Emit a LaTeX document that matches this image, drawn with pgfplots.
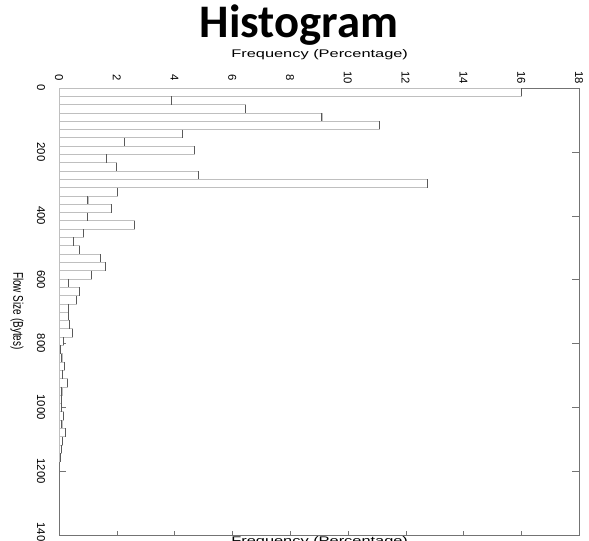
\documentclass[border=0pt]{standalone}
\usepackage{fontspec}
\setmainfont{Liberation Sans}
\newfontfamily\titlefont{Carlito}
\usepackage{pgfplots}
\usepackage{pgfplotstable}
\pgfplotsset{compat=1.18}

% Flow size histogram: bin start (bytes), share of flows (%)
\pgfplotstableread{
start freq
0    16.00
26   3.90
52   6.45
78   9.10
104  11.10
130  4.27
156  2.27
182  4.69
208  1.65
234  1.99
260  4.84
286  12.74
312  2.01
338  1.00
364  1.81
390  0.97
416  2.62
442  0.83
468  0.51
494  0.71
520  1.42
546  1.60
572  1.13
598  0.34
624  0.71
650  0.59
676  0.32
702  0.31
728  0.36
754  0.46
780  0.14
806  0.04
832  0.10
858  0.18
884  0.12
910  0.28
936  0.10
962  0.08
988  0.09
1014 0.16
1040 0.10
1066 0.23
1092 0.13
1118 0.08
1144 0.05
1170 0
}\flowhist

\begin{document}
\begin{tikzpicture}[x=1pt,y=1pt]
\begin{axis}[
  name=ax, at={(0,0)}, anchor=north west,
  scale only axis, width=390pt, height=335.25pt,
  xmin=0, xmax=18, ymin=0, ymax=1400, y dir=reverse,
  xtick={0,2,...,18}, ytick={0,200,...,1400},
  xticklabel pos=upper,
  tick align=inside,
  axis line style={black!55},
  tick style={black!55},
  xtick style={/pgfplots/major tick length=3pt},
  ytick style={/pgfplots/major tick length=5pt},
  /pgf/number format/assume math mode=true,
  /pgf/number format/1000 sep={},
  ticklabel style={font=\fontsize{8.5}{9}\selectfont},
  xticklabel style={yshift=7.5pt, rotate=-90, anchor=center},
  yticklabel style={xshift=-13.5pt, rotate=-90, anchor=center},
]
\addplot[xbar interval, fill=white, draw=black!25, line width=0.5pt]
  table[x=freq, y=start] {\flowhist};
\addplot[only marks, mark=|, mark size=3.1pt, black!65, line width=0.6pt,
  skip coords between index={45}{46}]
  table[x=freq, y expr=\thisrow{start}+13] {\flowhist};
\end{axis}

\node[anchor=base, font=\titlefont\bfseries\fontsize{35}{40}\selectfont]
  at (180,37.7) {Histogram};
\node[anchor=base, font=\fontsize{8.3}{10}\selectfont]
  at (195.5,23) {\scalebox{1.48}[1]{Frequency (Percentage)}};
\node[anchor=base, font=\fontsize{8.3}{10}\selectfont]
  at (195.5,-342.75) {\scalebox{1.48}[1]{Frequency (Percentage)}};
\node[rotate=-90, font=\fontsize{7.5}{9}\selectfont]
  at (-31.5,-167.25) {\scalebox{1}[1.4]{Flow Size (Bytes)}};

\pgfresetboundingbox
\useasboundingbox (-44.25,66) rectangle (397.5,-339.75);
\end{tikzpicture}
\end{document}
